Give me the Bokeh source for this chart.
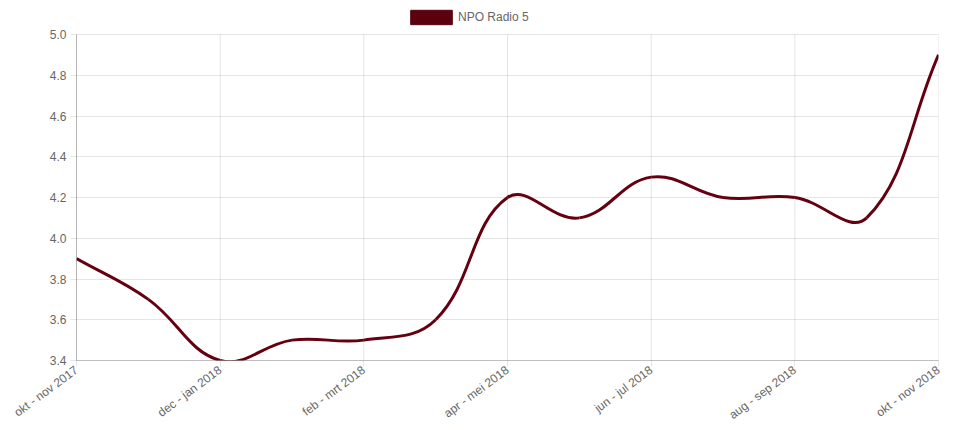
from bokeh.plotting import figure
from bokeh.models import (FixedTicker, Legend, LegendItem, ColumnDataSource, Range1d, NumeralTickFormatter)
from bokeh.embed import file_html
from bokeh.resources import INLINE

periods = ["okt - nov 2017", "nov - dec 2017", "dec - jan 2018", "jan - feb 2018",
           "feb - mrt 2018", "mrt - apr 2018", "apr - mei 2018", "mei - jun 2018",
           "jun - jul 2018", "jul - aug 2018", "aug - sep 2018", "sep - okt 2018",
           "okt - nov 2018"]
radio5 = [3.9, 3.7, 3.4, 3.5, 3.5, 3.6, 4.2, 4.1, 4.3, 4.2, 4.2, 4.1, 4.9]
y_ticks = [3.4, 3.6, 3.8, 4.0, 4.2, 4.4, 4.6, 4.8, 5.0]
series_name = "NPO Radio 5"

LINE = "#650010"
GRID = "rgba(0,0,0,0.1)"
TXT = "#666666"
FONT = "Liberation Sans"

FW, FH = 862, 326      # chart area (pixels)
TOP = 34               # legend band above chart area, kept inside the frame
y0, y1 = y_ticks[0], y_ticks[-1]
y_top = y1 + (y1 - y0) * TOP / FH
n = len(periods)
x_tick_idx = list(range(0, n, 2))

p = figure(width=950, height=414, output_backend="svg", toolbar_location=None,
           x_range=Range1d(0, n - 1), y_range=Range1d(y0, y_top),
           min_border_left=76, min_border_right=12, min_border_top=0, min_border_bottom=10,
           frame_width=FW, frame_height=FH + TOP)
p.outline_line_color = None
p.background_fill_color = "white"
p.border_fill_color = "white"

# vertical grid lines limited to the value range
p.segment(x0=x_tick_idx, x1=x_tick_idx, y0=[y0] * len(x_tick_idx), y1=[y1] * len(x_tick_idx),
          line_color=GRID, line_width=1, level="underlay")
p.xgrid.visible = False

# Chart.js-style bezier (tension 0.4), control points computed in pixel space
sx = FW / (n - 1)
sy = FH / (y1 - y0)
xs = list(range(n))
pts = [(x * sx, y * sy) for x, y in zip(xs, radio5)]
t = 0.4
prev_cp, next_cp = [], []
for i in range(n):
    cur = pts[i]
    pr = pts[i - 1] if i > 0 else cur
    nx = pts[i + 1] if i < n - 1 else cur
    d01 = ((cur[0] - pr[0]) ** 2 + (cur[1] - pr[1]) ** 2) ** 0.5
    d12 = ((nx[0] - cur[0]) ** 2 + (nx[1] - cur[1]) ** 2) ** 0.5
    s01 = d01 / (d01 + d12)
    s12 = d12 / (d01 + d12)
    fa, fb = t * s01, t * s12
    prev_cp.append((cur[0] - fa * (nx[0] - pr[0]), cur[1] - fa * (nx[1] - pr[1])))
    next_cp.append((cur[0] + fb * (nx[0] - pr[0]), cur[1] + fb * (nx[1] - pr[1])))

src = ColumnDataSource(dict(
    x0=[xs[i] for i in range(n - 1)], y0=[radio5[i] for i in range(n - 1)],
    x1=[xs[i + 1] for i in range(n - 1)], y1=[radio5[i + 1] for i in range(n - 1)],
    cx0=[next_cp[i][0] / sx for i in range(n - 1)], cy0=[next_cp[i][1] / sy for i in range(n - 1)],
    cx1=[prev_cp[i + 1][0] / sx for i in range(n - 1)], cy1=[prev_cp[i + 1][1] / sy for i in range(n - 1)],
))
p.bezier(x0="x0", y0="y0", x1="x1", y1="y1", cx0="cx0", cy0="cy0", cx1="cx1", cy1="cy1",
         source=src, line_color=LINE, line_width=3)

# legend swatch glyph (hidden renderer, only used for the legend box)
sw = p.quad(left=xs[:1], right=xs[:1], top=radio5[:1], bottom=radio5[:1],
            fill_color="#5c0010", line_color="#5c0010", line_width=1)
sw.visible = False
legend = Legend(items=[LegendItem(label=series_name, renderers=[sw])],
                location=(329, FH + TOP - 26), orientation="horizontal",
                glyph_width=52, glyph_height=18, label_height=18, padding=0, margin=0,
                label_standoff=1, spacing=0,
                label_text_font=FONT, label_text_font_size="12px", label_text_color=TXT,
                border_line_color=None, background_fill_alpha=0)
p.add_layout(legend, "center")

# axes
p.xaxis.ticker = FixedTicker(ticks=x_tick_idx)
p.xaxis.major_label_overrides = {i: periods[i] for i in x_tick_idx}
p.xaxis.major_label_orientation = 0.64
p.yaxis.ticker = FixedTicker(ticks=y_ticks)
p.yaxis.formatter = NumeralTickFormatter(format="0.0")
p.yaxis.bounds = (y0, y1)
for ax in (p.xaxis[0], p.yaxis[0]):
    ax.axis_line_color = "rgba(0,0,0,0.25)"
    ax.major_tick_line_color = GRID
    ax.major_tick_in = 0
    ax.major_tick_out = 6
    ax.minor_tick_line_color = None
    ax.major_label_text_font = FONT
    ax.major_label_text_font_size = "12px"
    ax.major_label_text_color = TXT
p.yaxis.major_label_standoff = 4
p.xaxis.major_label_standoff = 2

p.ygrid.ticker = FixedTicker(ticks=y_ticks)
p.grid.grid_line_color = GRID

open("out.html", "w").write(file_html(p, INLINE))
